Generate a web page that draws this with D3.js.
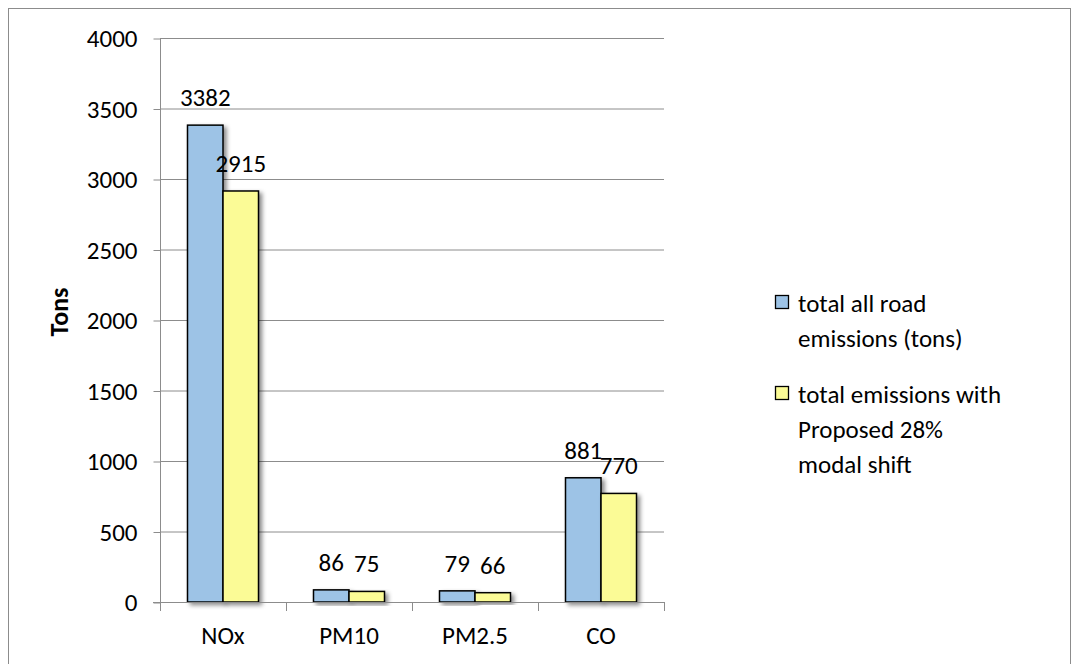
<!DOCTYPE html>
<html>
<head>
<meta charset="utf-8">
<script src="https://cdn.jsdelivr.net/npm/d3@7"></script>
<style>
  html, body { margin: 0; padding: 0; background: #fff; }
  svg { display: block; font-family: Carlito, Lato, "Open Sans", sans-serif; }
</style>
</head>
<body>
<svg id="chart" width="1074" height="664"></svg>
<script>
// Emission categories and totals (tons)
const categories = ["NOx", "PM10", "PM2.5", "CO"];
const seriesNames = [
  ["total all road", "emissions (tons)"],
  ["total emissions with", "Proposed 28%", "modal shift"]
];
const allRoad = [3382, 86, 79, 881];
const withShift = [2915, 75, 66, 770];
const yTicks = [0, 500, 1000, 1500, 2000, 2500, 3000, 3500, 4000];
const colors = ["#9dc3e6", "#fbfb96"];

const FONT = "Carlito, Lato, 'Open Sans', sans-serif";
const FS = 25;

const svg = d3.select("#chart");

// drop shadow under the bars
const defs = svg.append("defs");
const f = defs.append("filter").attr("id", "shadow")
  .attr("x", "-20%").attr("y", "-20%").attr("width", "150%").attr("height", "150%");
f.append("feDropShadow").attr("dx", 3).attr("dy", 2.5)
  .attr("stdDeviation", 2.2).attr("flood-color", "#000").attr("flood-opacity", 0.45);

// outer frame
svg.append("rect").attr("x", 8.5).attr("y", 8.5).attr("width", 1062).attr("height", 700)
  .attr("fill", "none").attr("stroke", "#8c8c8c").attr("stroke-width", 1);

const plot = { left: 160, right: 664, top: 38, bottom: 602 };

const x = d3.scaleBand().domain(categories).range([plot.left, plot.right]);
const y = d3.scaleLinear().domain([0, 4000]).range([plot.bottom, plot.top]);
const barW = 35.5;

// horizontal gridlines
svg.append("g").selectAll("line").data(yTicks.filter(d => d > 0)).join("line")
  .attr("x1", plot.left).attr("x2", plot.right)
  .attr("y1", d => y(d) + 0.5).attr("y2", d => y(d) + 0.5)
  .attr("stroke", "#8c8c8c").attr("stroke-width", 1);

// y axis
const yAxis = svg.append("g").attr("transform", `translate(${plot.left + 0.5},0.5)`)
  .call(d3.axisLeft(y).tickValues(yTicks).tickSize(7).tickPadding(16).tickFormat(d3.format("d")));
yAxis.select(".domain").attr("stroke", "#8c8c8c").attr("d", `M0,${plot.top}V${plot.bottom}`);
yAxis.selectAll(".tick line").attr("stroke", "#8c8c8c");
yAxis.selectAll(".tick text").attr("font-size", FS).attr("fill", "#000")
  .attr("font-family", FONT);

// bars
const series = [allRoad, withShift];
series.forEach((vals, si) => {
  svg.append("g").selectAll("rect").data(categories).join("rect")
    .attr("x", c => x(c) + x.bandwidth() / 2 - barW + si * barW)
    .attr("y", (c, i) => y(vals[i]))
    .attr("width", barW)
    .attr("height", (c, i) => y(0) - y(vals[i]))
    .attr("fill", colors[si])
    .attr("stroke", "#000").attr("stroke-width", 1.5)
    .attr("filter", "url(#shadow)");
});

// x axis (drawn over bar bottoms)
const xAxis = svg.append("g").attr("transform", `translate(0,${plot.bottom + 0.5})`)
  .call(d3.axisBottom(x).tickSize(0).tickPadding(24));
xAxis.select(".domain").attr("stroke", "#8c8c8c").attr("d", `M${plot.left - 7},0H${plot.right}`);
xAxis.selectAll(".tick text").attr("font-size", FS).attr("fill", "#000")
  .attr("font-family", FONT);
// category separator ticks
svg.append("g").selectAll("line")
  .data(categories.map(c => x(c)).concat([plot.right])).join("line")
  .attr("x1", d => Math.round(d) + 0.5).attr("x2", d => Math.round(d) + 0.5)
  .attr("y1", plot.bottom).attr("y2", plot.bottom + 9)
  .attr("stroke", "#8c8c8c");

// value labels
series.forEach((vals, si) => {
  svg.append("g").selectAll("text").data(categories).join("text")
    .attr("x", c => x(c) + x.bandwidth() / 2 - barW / 2 + si * barW)
    .attr("y", (c, i) => y(vals[i]) - 19)
    .attr("text-anchor", "middle").attr("font-size", FS).attr("fill", "#000")
    .text((c, i) => vals[i]);
});

// y axis title
svg.append("text").attr("transform", "translate(68,312) rotate(-90)")
  .attr("text-anchor", "middle").attr("font-size", 26).attr("font-weight", "bold")
  .text("Tons");

// legend
const legendY = [295, 386];
seriesNames.forEach((lines, si) => {
  const g = svg.append("g");
  g.append("rect").attr("x", 775.5).attr("y", legendY[si] + 0.5).attr("width", 13).attr("height", 13)
    .attr("fill", colors[si]).attr("stroke", "#000").attr("stroke-width", 1.3);
  lines.forEach((t, li) => {
    g.append("text").attr("x", 798).attr("y", legendY[si] + 17 + li * 35)
      .attr("font-size", FS).attr("fill", "#000").text(t);
  });
});
</script>
</body>
</html>
